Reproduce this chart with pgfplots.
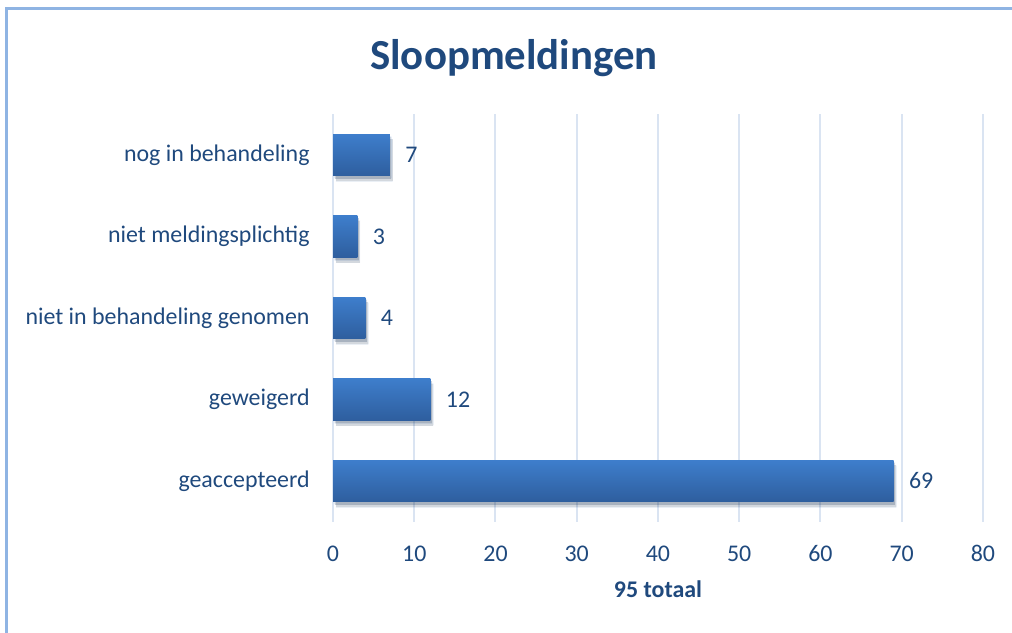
\documentclass[border=0pt]{standalone}
\usepackage{pgfplots}
\pgfplotsset{compat=1.18}
\usepackage{fontspec}
\setmainfont{Carlito}
\definecolor{txt}{RGB}{31,73,125}
\definecolor{gridc}{RGB}{218,228,242}
\definecolor{bordc}{RGB}{143,180,227}
\definecolor{bartop}{RGB}{62,126,204}
\definecolor{barbot}{RGB}{46,94,158}
\pgfplotsset{shbar/.style={xbar, bar width=0.515, bar shift=0pt, draw=none, top color=bartop, bottom color=barbot,
  preaction={fill=black, fill opacity=0.10, transform canvas={xshift=1.4bp,yshift=-2.6bp}},
  preaction={fill=black, fill opacity=0.12, transform canvas={xshift=0.8bp,yshift=-1.4bp}}}}
\begin{document}
\begin{tikzpicture}
\useasboundingbox (0,0) rectangle (506bp,316.5bp);
\draw[bordc, line width=1.1bp] (3.25bp,-1bp) -- (3.25bp,312.25bp) -- (510bp,312.25bp);
\node[txt, font=\fontsize{21.5}{24}\selectfont\bfseries, anchor=base, inner sep=0pt] at (257bp,281.5bp) {Sloopmeldingen};
\begin{axis}[
  at={(166.5bp,55.625bp)}, anchor=south west,
  scale only axis, width=325bp, height=203.75bp,
  xmin=0, xmax=80, ymin=-0.5, ymax=4.5,
  xtick={0,10,...,80},
  ytick={0,1,2,3,4},
  yticklabels={geaccepteerd, geweigerd, niet in behandeling genomen, niet meldingsplichtig, nog in behandeling},
  axis line style={draw=none},
  major tick length=0pt,
  xmajorgrids, major grid style={gridc, line width=1bp},
  /pgf/number format/assume math mode=true,
  tick label style={txt, font=\fontsize{12}{14}\selectfont},
  xticklabel style={anchor=base, inner sep=0pt, yshift=-20bp},
  yticklabel style={anchor=east, inner sep=0pt, xshift=-11.5bp},
  xlabel={\bfseries 95 totaal},
  xlabel style={txt, font=\fontsize{12}{14}\selectfont, at={(axis description cs:0.5,0)}, anchor=base, inner sep=0pt, yshift=-38.1bp},
  nodes near coords, point meta=x,
  every node near coord/.append style={txt, font=\fontsize{12}{14}\selectfont, anchor=west, inner sep=0pt, xshift=7.5bp},
  clip=false,
]
\addplot[shbar] coordinates {(69,0)};
\addplot[shbar] coordinates {(12,1)};
\addplot[shbar] coordinates {(4,2)};
\addplot[shbar] coordinates {(3,3)};
\addplot[shbar] coordinates {(7,4)};
\end{axis}
\end{tikzpicture}
\end{document}
